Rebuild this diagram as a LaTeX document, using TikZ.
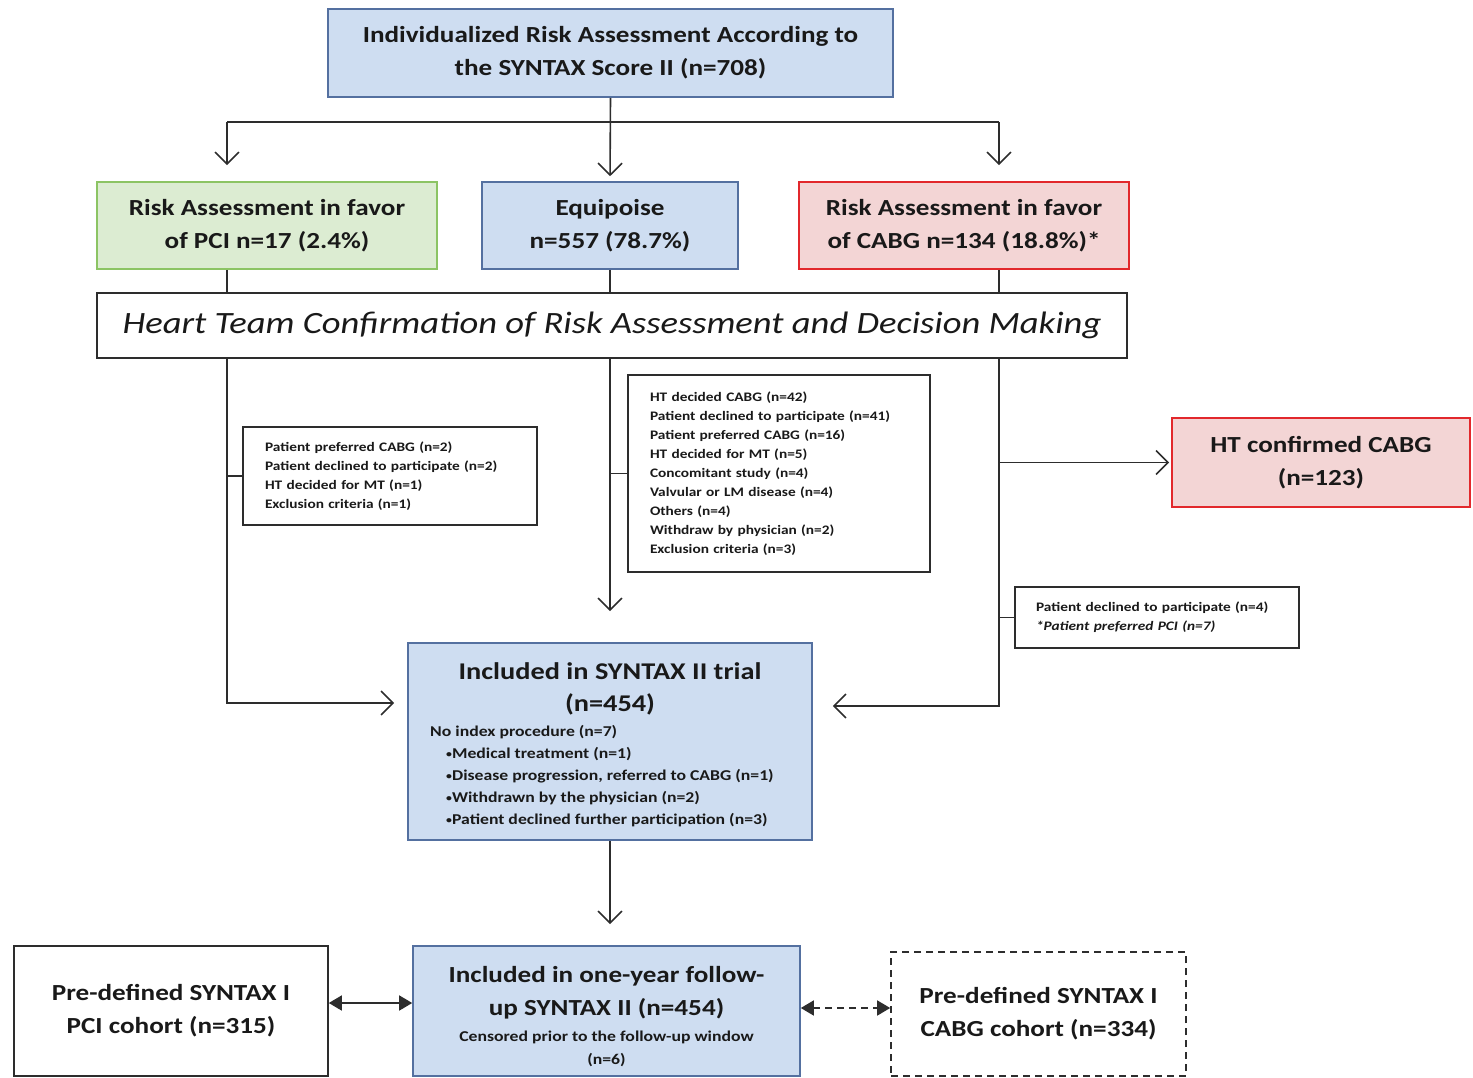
\documentclass[tikz,border=0pt]{standalone}
\usepackage{fontspec}
\setmainfont{Carlito}[FakeStretch=1.18]
\usetikzlibrary{arrows.meta,positioning}

\definecolor{boxblue}{RGB}{84,112,160}
\definecolor{fillblue}{RGB}{206,221,241}
\definecolor{boxgreen}{RGB}{140,196,100}
\definecolor{fillgreen}{RGB}{220,236,210}
\definecolor{boxred}{RGB}{226,40,44}
\definecolor{fillred}{RGB}{243,213,213}
\definecolor{linegray}{RGB}{45,45,45}
\definecolor{inkgray}{RGB}{25,25,25}

\newcommand{\boxfont}{\bfseries\fontsize{23}{33}\selectfont}
\newcommand{\notefont}{\bfseries\fontsize{13}{19}\selectfont}
\newcommand{\listfont}{\bfseries\fontsize{15}{22}\selectfont}
\newcommand{\listdot}{\hspace*{16pt}{\fontsize{10}{10}\selectfont\raisebox{1.5pt}{\textbullet}}}

\begin{document}
\begin{tikzpicture}[x=1pt,y=-1pt,
    box/.style={draw,line width=1.6pt,align=center,inner sep=0pt,text=inkgray,font=\boxfont},
    bluebox/.style={box,draw=boxblue,fill=fillblue},
    greenbox/.style={box,draw=boxgreen,fill=fillgreen},
    redbox/.style={box,draw=boxred,fill=fillred},
    plainbox/.style={box,draw=linegray,fill=white},
    note/.style={draw=linegray,line width=1.6pt,align=left,inner ysep=0pt,inner xsep=22pt,text=inkgray,font=\notefont},
    link/.style={line width=1.6pt,draw=linegray},
    openarrow/.style={link,-{Straight Barb[length=12pt,width=24pt,line width=1.6pt]}},
    twoway/.style={link,{Triangle[length=13pt,width=15pt]}-{Triangle[length=13pt,width=15pt]}}
  ]
  \useasboundingbox (0,0) rectangle (1473,1078);

  % first row
  \node[bluebox, minimum width=565pt, minimum height=88pt] (score) at (610.5,53)
    {Individualized Risk Assessment According to\\the SYNTAX Score II (n=708)};
  \node[greenbox, minimum width=340pt, minimum height=87pt] (pci) at (267,225.5)
    {Risk Assessment in favor\\of PCI n=17 (2.4\%)};
  \node[bluebox, minimum width=256pt, minimum height=87pt] (equip) at (610,225.5)
    {Equipoise\\n=557 (78.7\%)};
  \node[redbox, minimum width=330pt, minimum height=87pt] (cabg) at (964,225.5)
    {Risk Assessment in favor\\of CABG n=134 (18.8\%)*};
  \node[plainbox, minimum width=1030pt, minimum height=65pt,
        font=\itshape\fontsize{31}{36}\selectfont] (heart) at (612,325.5)
    {Heart Team Confirmation of Risk Assessment and Decision Making};

  % exclusions
  \node[note, text width=250pt, minimum height=98pt] (noteL) at (390,476)
    {Patient preferred CABG (n=2)\\Patient declined to participate (n=2)\\
     HT decided for MT (n=1)\\Exclusion criteria (n=1)};
  \node[note, text width=258pt, minimum height=197pt] (noteM) at (779,473.5)
    {HT decided CABG (n=42)\\Patient declined to participate (n=41)\\
     Patient preferred CABG (n=16)\\HT decided for MT (n=5)\\
     Concomitant study (n=4)\\Valvular or LM disease (n=4)\\Others (n=4)\\
     Withdraw by physician (n=2)\\Exclusion criteria (n=3)};
  \node[note, text width=242pt, inner xsep=21pt, minimum height=61pt] (noteR) at (1157,617.5)
    {Patient declined to participate (n=4)\\\textit{*Patient preferred PCI (n=7)}};
  \node[redbox, minimum width=298pt, minimum height=89pt] (htcabg) at (1321,462.5)
    {HT confirmed CABG\\(n=123)};

  % trial
  \node[bluebox, minimum width=404pt, minimum height=197pt,
        font=\bfseries\fontsize{24}{32}\selectfont] (trial) at (610,741.5)
    {\rule{0pt}{28pt}Included in SYNTAX II trial\\(n=454)\\[5pt]
     {\listfont\begin{tabular}{@{}l@{\hspace{16pt}}}
      No index procedure (n=7)\\
      \listdot Medical treatment (n=1)\\
      \listdot Disease progression, referred to CABG (n=1)\\
      \listdot Withdrawn by the physician (n=2)\\
      \listdot Patient declined further participation (n=3)
     \end{tabular}}};

  % bottom row
  \node[bluebox, minimum width=387pt, minimum height=130pt] (followup) at (606.5,1011)
    {\rule{0pt}{27pt}Included in one-year follow-\\up SYNTAX II (n=454)\\[-7pt]
     {\fontsize{15}{21}\selectfont Censored prior to the follow-up window}\\[-10pt]
     {\fontsize{15}{21}\selectfont (n=6)}};
  \node[plainbox, minimum width=314pt, minimum height=130pt] (pcicohort) at (171,1011)
    {Pre-defined SYNTAX I\\PCI cohort (n=315)};
  \node[plainbox, dashed, dash pattern=on 7pt off 5pt, minimum width=295pt, minimum height=124pt] (cabgcohort) at (1038.5,1014)
    {Pre-defined SYNTAX I\\CABG cohort (n=334)};

  % connectors
  \coordinate (busL) at (227,122);
  \coordinate (busM) at (610,122);
  \coordinate (busR) at (999,122);
  \draw[link] (busL) -- (busR);
  \draw[openarrow, shorten >=5pt] (score.south) -- (equip.north);
  \draw[openarrow, shorten >=16pt] (busL) -- (busL |- pci.north);
  \draw[openarrow, shorten >=16pt] (busR) -- (busR |- cabg.north);
  \draw[link] (busL |- pci.south) -- (busL |- heart.north);
  \draw[link] (busM |- equip.south) -- (busM |- heart.north);
  \draw[link] (busR |- cabg.south) -- (busR |- heart.north);

  \draw[openarrow, shorten >=13pt] (busL |- heart.south) |- ([yshift=38.5pt]trial.west);
  \draw[openarrow, shorten >=31pt] (busM |- heart.south) -- (trial.north);
  \draw[openarrow, shorten >=20pt] (busR |- heart.south) |- ([yshift=35.5pt]trial.east);
  \draw[openarrow, shorten >=2pt] (busR |- htcabg.west) -- (htcabg.west);
  \draw[link] (busL |- noteL.west) -- (noteL.west);
  \draw[link] (busM |- noteM.west) -- (noteM.west);
  \draw[link] (busR |- noteR.west) -- (noteR.west);

  \draw[openarrow, shorten >=21pt] (trial.south) -- (trial.south |- followup.north);
  \draw[twoway] ([yshift=8pt]pcicohort.east) -- ([yshift=8pt]followup.west);
  \draw[twoway, dash pattern=on 7pt off 5pt] ([yshift=3pt]followup.east) -- ([yshift=6pt]cabgcohort.west);
\end{tikzpicture}
\end{document}
